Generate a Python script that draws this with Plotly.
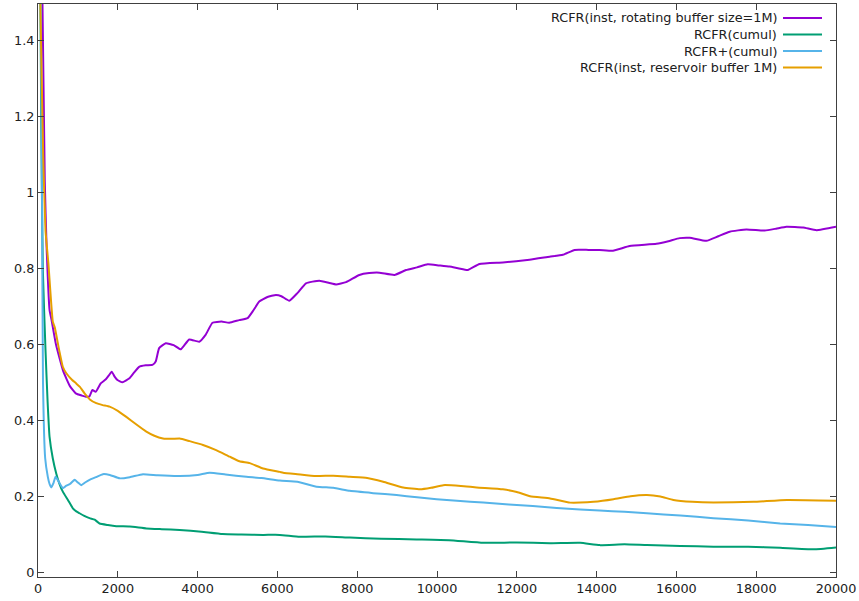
import plotly.graph_objects as go

# ---- data ----
purple_x = [0, 100, 170, 215, 290, 340, 450, 630, 800, 945, 1100, 1200, 1290, 1363, 1447, 1572, 1700, 1781,
            1848, 1920, 1991, 2116, 2283, 2400, 2534, 2700, 2868, 2950, 3036, 3203, 3400, 3580, 3789, 4040,
            4200, 4373, 4600, 4792, 5043, 5252, 5400, 5545, 5750, 5964, 6100, 6298, 6500, 6716, 7050, 7300,
            7469, 7720, 8054, 8300, 8556, 8932, 9225, 9500, 9768, 10050, 10312, 10550, 10772, 11065, 11650,
            12319, 12821, 13155, 13448, 13800, 14076, 14410, 14828, 15498, 15800, 16083, 16334, 16752, 17050,
            17337, 17755, 18215, 18500, 18759, 19177, 19512, 20000]
purple_y = [2.2, 1.6, 1.03, 0.858, 0.69, 0.664, 0.60, 0.53, 0.49, 0.471, 0.465, 0.462, 0.463, 0.48, 0.475,
            0.497, 0.508, 0.519, 0.528, 0.515, 0.506, 0.50, 0.51, 0.525, 0.541, 0.545, 0.546, 0.555, 0.59,
            0.603, 0.598, 0.587, 0.613, 0.607, 0.625, 0.657, 0.66, 0.657, 0.664, 0.669, 0.69, 0.713, 0.725,
            0.730, 0.727, 0.715, 0.735, 0.761, 0.768, 0.762, 0.758, 0.764, 0.783, 0.788, 0.789, 0.783, 0.796,
            0.803, 0.811, 0.808, 0.805, 0.800, 0.796, 0.812, 0.816, 0.823, 0.831, 0.836, 0.849, 0.849, 0.849,
            0.847, 0.859, 0.865, 0.872, 0.880, 0.881, 0.873, 0.885, 0.897, 0.903, 0.900, 0.905, 0.910, 0.908,
            0.901, 0.910]

green_x = [0, 80, 120, 188, 240, 289, 370, 457, 540, 622, 750, 873, 960, 1041, 1160, 1292, 1420, 1543, 1750,
           1962, 2300, 2715, 3100, 3550, 4100, 4625, 5100, 5641, 6059, 6560, 7200, 7816, 8600, 9489, 10300,
           11160, 12000, 12834, 13586, 14076, 14700, 15260, 16100, 16929, 17800, 18601, 19436, 20000]
green_y = [2.5, 1.2, 0.8, 0.585, 0.45, 0.357, 0.30, 0.260, 0.232, 0.212, 0.19, 0.168, 0.16, 0.155, 0.148,
           0.142, 0.138, 0.128, 0.124, 0.121, 0.12, 0.115, 0.113, 0.111, 0.106, 0.100, 0.099, 0.098, 0.098,
           0.093, 0.094, 0.091, 0.088, 0.086, 0.084, 0.077, 0.078, 0.076, 0.077, 0.071, 0.073, 0.071, 0.069,
           0.067, 0.067, 0.064, 0.060, 0.065]

blue_x = [0, 70, 100, 125, 180, 246, 290, 331, 390, 439, 520, 622, 700, 800, 916, 1000, 1084, 1180, 1292,
          1450, 1626, 1800, 2045, 2300, 2630, 3000, 3550, 4000, 4303, 4700, 5223, 5600, 6059, 6500, 6980,
          7400, 7816, 8400, 8987, 9500, 9990, 10500, 11160, 11800, 12400, 13000, 13586, 14076, 14700, 15260,
          16100, 16929, 17800, 18601, 19300, 20000]
blue_y = [2.5, 1.5, 1.0, 0.5, 0.3, 0.251, 0.232, 0.223, 0.235, 0.251, 0.238, 0.221, 0.227, 0.232, 0.243,
          0.236, 0.229, 0.236, 0.243, 0.25, 0.258, 0.256, 0.247, 0.25, 0.258, 0.255, 0.253, 0.256, 0.262,
          0.257, 0.251, 0.248, 0.241, 0.238, 0.225, 0.222, 0.214, 0.208, 0.203, 0.197, 0.192, 0.188, 0.183,
          0.178, 0.174, 0.169, 0.165, 0.162, 0.159, 0.155, 0.149, 0.142, 0.136, 0.128, 0.124, 0.119]

orange_x = [0, 60, 130, 188, 260, 371, 420, 530, 622, 710, 850, 958, 1050, 1167, 1300, 1460, 1620, 1794,
            2000, 2213, 2450, 2715, 2900, 3131, 3350, 3550, 3800, 4135, 4450, 4805, 5050, 5307, 5641, 6059,
            6143, 6500, 6967, 7400, 7816, 8250, 8652, 9153, 9572, 9850, 10157, 10600, 10994, 11650, 12000,
            12332, 12834, 13335, 13586, 13920, 14423, 14850, 15260, 15600, 15925, 16400, 16929, 17933,
            18772, 20000]
orange_y = [2.5, 1.5, 1.1, 0.9, 0.814, 0.66, 0.645, 0.585, 0.541, 0.524, 0.507, 0.497, 0.488, 0.471, 0.455,
            0.445, 0.44, 0.436, 0.425, 0.409, 0.39, 0.370, 0.36, 0.352, 0.351, 0.352, 0.345, 0.335, 0.322,
            0.304, 0.292, 0.287, 0.273, 0.264, 0.262, 0.258, 0.253, 0.254, 0.251, 0.248, 0.238, 0.223, 0.218,
            0.222, 0.229, 0.227, 0.223, 0.218, 0.211, 0.200, 0.194, 0.183, 0.183, 0.185, 0.192, 0.200, 0.203,
            0.199, 0.190, 0.185, 0.183, 0.185, 0.190, 0.188]

series_names = ["RCFR(inst, rotating buffer size=1M)", "RCFR(cumul)", "RCFR+(cumul)",
                "RCFR(inst, reservoir buffer 1M)"]
series_colors = ["#9400d3", "#009e73", "#56b4e9", "#e69f00"]
x_ticks = [0, 2000, 4000, 6000, 8000, 10000, 12000, 14000, 16000, 18000, 20000]
x_tick_text = ["0", "2000", "4000", "6000", "8000", "10000", "12000", "14000", "16000", "18000", "20000"]
y_ticks = [0, 0.2, 0.4, 0.6, 0.8, 1.0, 1.2, 1.4]
y_tick_text = ["0", "0.2", "0.4", "0.6", "0.8", "1", "1.2", "1.4"]

FONT = "DejaVu Sans"
FSIZE = 12.8
W, H = 859, 601
ML, MR, MT, MB = 38, 23, 4, 24

fig = go.Figure()
for xs, ys, name, col in zip([purple_x, green_x, blue_x, orange_x],
                             [purple_y, green_y, blue_y, orange_y],
                             series_names, series_colors):
    fig.add_trace(go.Scatter(x=xs, y=ys, mode="lines", name=name,
                             line=dict(color=col, width=2, shape="spline", smoothing=0.4),
                             showlegend=False))

# manual gnuplot-style legend (text on the left, sample line on the right)
pw = W - ML - MR
ph = H - MT - MB
def px_x(p):
    return (p - ML) / pw
def px_y(p):
    return (H - MB - p) / ph

row_px = [18, 34.5, 51, 67.5]
for name, col, ry in zip(series_names, series_colors, row_px):
    fig.add_annotation(x=px_x(779), y=px_y(ry), xref="paper", yref="paper", text=name,
                       showarrow=False, xanchor="right", yanchor="middle",
                       font=dict(family=FONT, size=FSIZE, color="#202020"))
    fig.add_shape(type="line", xref="paper", yref="paper",
                  x0=px_x(783), x1=px_x(822), y0=px_y(ry), y1=px_y(ry),
                  line=dict(color=col, width=2))

axis_common = dict(showgrid=False, zeroline=False, showline=True, linecolor="#404040", linewidth=1,
                   mirror="ticks", ticks="inside", ticklen=6, tickcolor="#404040", tickwidth=1,
                   automargin=False,
                   tickfont=dict(family=FONT, size=FSIZE, color="#202020"))
fig.update_xaxes(range=[0, 20000], tickvals=x_ticks, ticktext=x_tick_text, **axis_common)
fig.update_yaxes(range=[-0.013, 1.497], tickvals=y_ticks, ticktext=y_tick_text, **axis_common)

fig.update_layout(width=W, height=H, margin=dict(l=ML, r=MR, t=MT, b=MB),
                  paper_bgcolor="white", plot_bgcolor="white", showlegend=False)

fig.write_html("out.html", config={"displayModeBar": False},
               post_script="document.body.style.margin='0px';document.body.style.overflow='hidden';")
